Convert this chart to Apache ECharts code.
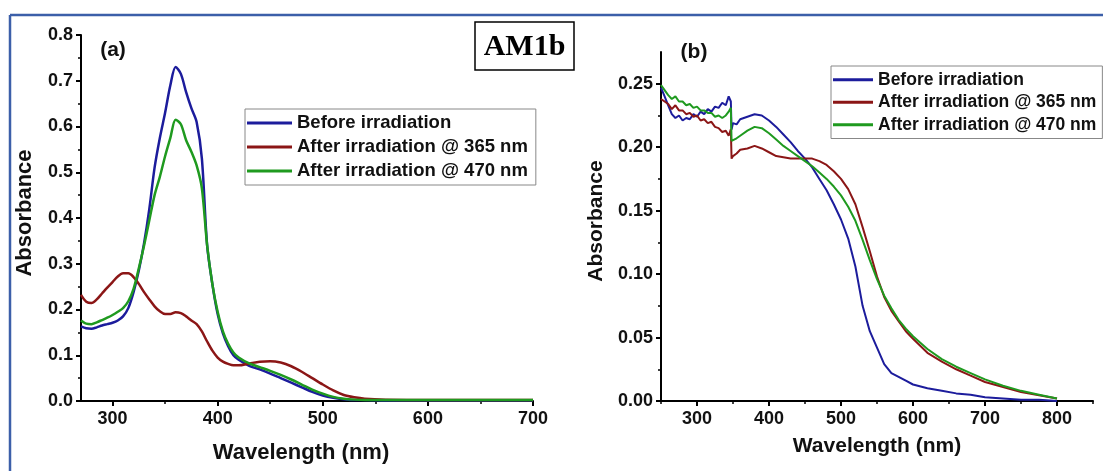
<!DOCTYPE html>
<html>
<head>
<meta charset="utf-8">
<script src="https://cdn.jsdelivr.net/npm/echarts@6/dist/echarts.min.js"></script>
<style>
  html, body { margin: 0; padding: 0; background: #fff; }
  #main { width: 1103px; height: 471px; }
</style>
</head>
<body>
<div id="main"></div>
<script>
// ---- panel (a) data ----
var wlA = [270,275,280,285,290,295,300,305,310,315,320,325,330,335,340,345,350,355,360,365,370,375,380,385,390,395,400,405,410,415,420,430,440,450,460,470,480,490,500,510,520,530,540,560,600,650,700];
var beforeA = [.163,.159,.158,.161,.165,.168,.171,.176,.185,.203,.238,.285,.345,.42,.51,.575,.63,.69,.73,.715,.675,.64,.61,.53,.34,.255,.19,.148,.12,.1,.09,.077,.069,.06,.05,.04,.03,.02,.012,.007,.004,.002,.002,.001,.001,.001,.001];
var after365A = [.232,.217,.214,.222,.235,.248,.26,.272,.279,.279,.271,.256,.238,.222,.207,.196,.19,.19,.194,.192,.185,.176,.168,.152,.13,.11,.095,.086,.081,.078,.078,.082,.086,.087,.084,.076,.064,.05,.036,.023,.013,.008,.005,.003,.002,.002,.002];
var after470A = [.176,.169,.168,.172,.177,.182,.188,.195,.203,.218,.245,.29,.34,.395,.45,.49,.535,.575,.615,.605,.57,.545,.515,.465,.34,.255,.195,.152,.125,.106,.095,.082,.074,.066,.057,.047,.036,.025,.016,.009,.005,.003,.002,.002,.002,.002,.002];

// ---- panel (b) data ----
var wlB = [250,255,260,265,270,275,280,285,290,295,300,305,310,315,320,325,330,335,340,344,347,348,350,355,360,370,380,390,400,410,420,430,440,450,460,470,480,490,500,510,520,530,540,550,560,570,580,590,600,620,640,660,680,700,725,750,775,800];
var beforeB = [.247,.24,.233,.226,.223,.225,.221,.223,.222,.226,.224,.228,.226,.23,.228,.232,.231,.235,.233,.24,.236,.214,.219,.218,.222,.224,.226,.225,.221,.216,.21,.204,.197,.191,.184,.175,.166,.155,.143,.128,.106,.075,.055,.042,.029,.022,.019,.016,.013,.01,.008,.006,.005,.003,.002,.001,.001,0];
var after365B = [.238,.236,.234,.23,.233,.229,.229,.226,.227,.224,.225,.221,.222,.219,.22,.216,.215,.212,.213,.209,.214,.191,.193,.195,.198,.199,.201,.199,.196,.193,.192,.191,.191,.191,.191,.189,.186,.181,.175,.167,.155,.137,.118,.098,.082,.071,.063,.055,.049,.038,.031,.025,.02,.015,.011,.007,.0045,.002];
var after470B = [.249,.245,.241,.238,.24,.236,.236,.233,.234,.231,.232,.229,.229,.227,.227,.224,.225,.223,.225,.228,.231,.205,.206,.207,.209,.213,.216,.215,.211,.206,.201,.197,.193,.189,.185,.18,.175,.169,.162,.153,.142,.127,.111,.096,.083,.073,.064,.057,.051,.041,.033,.027,.022,.017,.012,.008,.005,.002];

var names = ['Before irradiation', 'After irradiation @ 365 nm', 'After irradiation @ 470 nm'];
var colors = ['#1c1c9c', '#8b1616', '#1f9a1f'];

var font = '"Liberation Sans", Arial, sans-serif';

function pairs(xs, ys) {
  return xs.map(function (x, i) { return [x, ys[i]]; });
}

function mkSeries(idx, data, panel) {
  return {
    name: names[idx], type: 'line', data: data,
    xAxisIndex: panel == 0 ? 0 : 2, yAxisIndex: panel == 0 ? 0 : 2,
    showSymbol: false, smooth: panel == 0 ? 0.3 : false,
    itemStyle: { color: colors[idx] },
    lineStyle: { color: colors[idx], width: panel == 0 ? 2.5 : 2 },
    z: 3
  };
}

function majorAxis(grid, min, max, ticks, dec, pos) {
  return {
    gridIndex: grid, type: 'value', min: min, max: max, position: pos,
    axisLine: { show: true, onZero: false, lineStyle: { color: '#000', width: 2 } },
    axisTick: { show: true, customValues: ticks, length: 5, lineStyle: { color: '#000', width: 2 } },
    axisLabel: { customValues: ticks, color: '#111', fontWeight: 'bold', fontSize: 18, fontFamily: font,
      margin: pos == 'bottom' ? 9 : 8,
      formatter: function (v) { return dec ? v.toFixed(dec) : String(v); } },
    splitLine: { show: false }
  };
}

// second axis on the same side, only for the short minor ticks
function minorAxis(grid, min, max, ticks, pos) {
  return {
    gridIndex: grid, type: 'value', min: min, max: max, position: pos,
    axisLine: { show: false, onZero: false },
    axisTick: { show: true, customValues: ticks, length: 3, lineStyle: { color: '#000', width: 1.5 } },
    axisLabel: { show: false, customValues: ticks },
    splitLine: { show: false }
  };
}

var legendBase = {
  orient: 'vertical', icon: 'rect', itemHeight: 3, selectedMode: false,
  borderColor: '#888', borderWidth: 1, borderRadius: 0,
  data: names
};

var option = {
  animation: false,
  backgroundColor: '#fff',
  grid: [
    { left: 81, top: 35, width: 452, height: 366 },
    { left: 661, top: 52, width: 432, height: 349 }
  ],
  xAxis: [
    majorAxis(0, 270, 700, [300, 400, 500, 600, 700], 0, 'bottom'),
    minorAxis(0, 270, 700, [350, 450, 550, 650], 'bottom'),
    majorAxis(1, 250, 850, [300, 400, 500, 600, 700, 800], 0, 'bottom'),
    minorAxis(1, 250, 850, [250, 350, 450, 550, 650, 750, 850], 'bottom')
  ],
  yAxis: [
    majorAxis(0, 0, 0.8, [0, .1, .2, .3, .4, .5, .6, .7, .8], 1, 'left'),
    minorAxis(0, 0, 0.8, [.05, .15, .25, .35, .45, .55, .65, .75], 'left'),
    majorAxis(1, 0, 0.275, [0, .05, .1, .15, .2, .25], 2, 'left'),
    minorAxis(1, 0, 0.275, [.025, .075, .125, .175, .225], 'left')
  ],
  legend: [
    Object.assign({}, legendBase, {
      left: 245, top: 109, itemWidth: 45, itemGap: 4, padding: [4, 8, 4, 2],
      textStyle: { fontSize: 18.5, fontWeight: 'bold', fontFamily: font, color: '#111', lineHeight: 20 }
    }),
    Object.assign({}, legendBase, {
      left: 831, top: 66, itemWidth: 40, itemGap: 3, padding: [4, 6, 4, 2],
      textStyle: { fontSize: 17.5, fontWeight: 'bold', fontFamily: font, color: '#111', lineHeight: 19.5 }
    })
  ],
  series: [
    mkSeries(0, pairs(wlA, beforeA), 0),
    mkSeries(1, pairs(wlA, after365A), 0),
    mkSeries(2, pairs(wlA, after470A), 0),
    mkSeries(0, pairs(wlB, beforeB), 1),
    mkSeries(1, pairs(wlB, after365B), 1),
    mkSeries(2, pairs(wlB, after470B), 1)
  ],
  graphic: [
    // page frame
    { type: 'line', shape: { x1: 10, y1: 15, x2: 1103, y2: 15 }, style: { stroke: '#3c5fa9', lineWidth: 2.5 } },
    { type: 'line', shape: { x1: 10, y1: 15, x2: 10, y2: 471 }, style: { stroke: '#3c5fa9', lineWidth: 2.5 } },
    // panel tags
    { type: 'text', x: 113, y: 50, style: { text: '(a)', font: 'bold 21px ' + font, fill: '#111', textAlign: 'center', textVerticalAlign: 'middle' } },
    { type: 'text', x: 694, y: 52, style: { text: '(b)', font: 'bold 21px ' + font, fill: '#111', textAlign: 'center', textVerticalAlign: 'middle' } },
    { type: 'rect', shape: { x: 475, y: 22, width: 99, height: 48 }, style: { fill: '#fff', stroke: '#000', lineWidth: 1.5 } },
    { type: 'text', x: 524.5, y: 47, style: { text: 'AM1b', font: 'bold 30px "Liberation Serif", "Times New Roman", serif', fill: '#000', textAlign: 'center', textVerticalAlign: 'middle' } },
    // axis titles
    { type: 'text', x: 25, y: 213, rotation: Math.PI / 2, style: { text: 'Absorbance', font: 'bold 22px ' + font, fill: '#111', textAlign: 'center', textVerticalAlign: 'middle' } },
    { type: 'text', x: 596, y: 221, rotation: Math.PI / 2, style: { text: 'Absorbance', font: 'bold 21px ' + font, fill: '#111', textAlign: 'center', textVerticalAlign: 'middle' } },
    { type: 'text', x: 301, y: 453, style: { text: 'Wavelength (nm)', font: 'bold 22px ' + font, fill: '#111', textAlign: 'center', textVerticalAlign: 'middle' } },
    { type: 'text', x: 877, y: 446, style: { text: 'Wavelength (nm)', font: 'bold 21px ' + font, fill: '#111', textAlign: 'center', textVerticalAlign: 'middle' } }
  ]
};

var myChart = echarts.init(document.getElementById('main'));
myChart.setOption(option);
</script>
</body>
</html>
